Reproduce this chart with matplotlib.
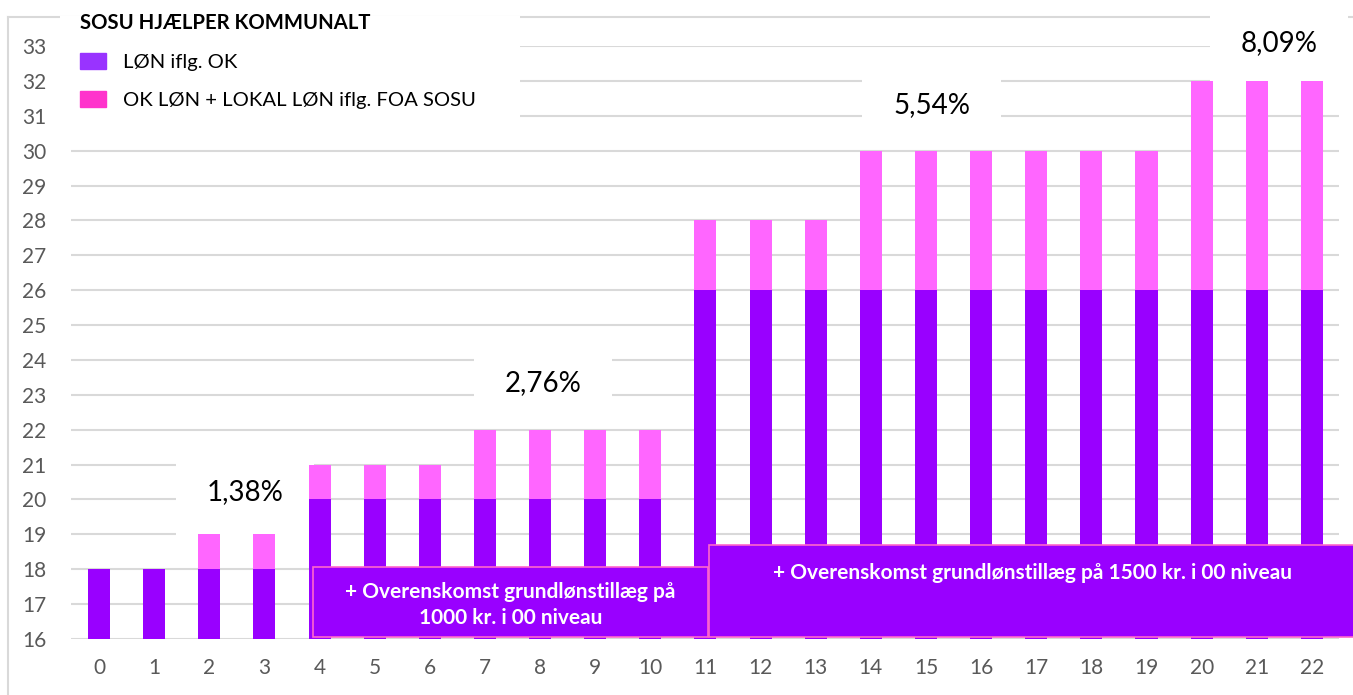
import matplotlib
matplotlib.use("Agg")
import numpy as np
import matplotlib.pyplot as plt
from matplotlib.patches import Patch, Rectangle
from matplotlib.lines import Line2D

# data
trin = list(range(23))
ok_lon = [18, 18, 18, 18, 20, 20, 20, 20, 20, 20, 20,
          26, 26, 26, 26, 26, 26, 26, 26, 26, 26, 26, 26]
total_lon = [18, 18, 19, 19, 21, 21, 21, 22, 22, 22, 22,
             28, 28, 28, 30, 30, 30, 30, 30, 30, 32, 32, 32]
pct_labels = ["1,38%", "2,76%", "5,54%", "8,09%"]
pct_pos = [(2.65, 20.2), (8.05, 23.35), (15.1, 31.3), (21.4, 33.08)]

series_names = ["LØN iflg. OK", "OK LØN + LOKAL LØN iflg. FOA SOSU"]
box_texts = ["+ Overenskomst grundlønstillæg på\n1000 kr. i 00 niveau",
             "+ Overenskomst grundlønstillæg på 1500 kr. i 00 niveau"]

PURPLE = "#9900FF"
PINK = "#FF66FF"
GRID = "#D9D9D9"

plt.rcParams['font.family'] = ['Lato', 'DejaVu Sans']

fig = plt.figure(figsize=(13.53, 6.95), dpi=100)
ax = fig.add_axes([0.0528, 0.0806, 0.9372, 0.8532])

x = np.array(trin)
ok = np.array(ok_lon)
tot = np.array(total_lon)

ax.bar(x, ok, 0.4, color=PURPLE, zorder=1)
ax.bar(x, tot - ok, 0.4, bottom=ok, color=PINK, zorder=1)

ax.set_xlim(-0.5, 22.5)
ax.set_ylim(16, 33)
ax.set_yticks(range(16, 34))
ax.set_xticks(x)
ax.grid(axis='y', color=GRID, linewidth=1.5)
ax.set_axisbelow(True)
for s in ax.spines.values():
    s.set_visible(False)
ax.tick_params(axis='both', length=0, labelsize=15, labelcolor="#595959")
ax.tick_params(axis='x', pad=14)
ax.tick_params(axis='y', pad=18)

# chart frame (cut off at right/bottom like the original)
ax.add_line(Line2D([8/1353, 8/1353], [0, 1 - 17/695], transform=fig.transFigure,
                   color=GRID, lw=1.5, clip_on=False, zorder=0.6))
ax.add_line(Line2D([8/1353, 1], [1 - 17/695, 1 - 17/695], transform=fig.transFigure,
                   color=GRID, lw=1.5, clip_on=False, zorder=0.6))

# white area behind legend
ax.add_patch(Rectangle((60/1353, 1 - 132/695), 460/1353, 116/695,
                       transform=fig.transFigure, facecolor="white",
                       edgecolor="none", clip_on=False, zorder=0.8))

handles = [Patch(color="#9933FF"), Patch(color="#FF33CC")]
leg = ax.legend(handles, series_names, title="SOSU HJÆLPER KOMMUNALT",
                loc='upper left', bbox_to_anchor=(80/1353, 1 - 13/695),
                bbox_transform=fig.transFigure, frameon=False, alignment='left',
                fontsize=14.6, title_fontproperties={'weight': 'bold', 'size': 14.6},
                borderpad=0, borderaxespad=0, handlelength=1.3, handleheight=0.8,
                handletextpad=0.8, labelspacing=1.0)

# percent labels (behind the bars, above the grid)
for lab, (px, py) in zip(pct_labels, pct_pos):
    ax.text(px, py, lab, ha='center', va='center', fontsize=20, color="black",
            bbox=dict(facecolor='white', edgecolor='none', pad=22), zorder=0.9)

# text boxes
ax.add_patch(Rectangle((3.88, 16.06), 7.17, 2.0, facecolor=PURPLE,
                       edgecolor="#FF66CC", lw=1.2, clip_on=False, zorder=4))
ax.add_patch(Rectangle((11.06, 16.06), 13.0, 2.64, facecolor=PURPLE,
                       edgecolor="#FF66CC", lw=1.2, clip_on=False, zorder=4))
ax.text(7.46, 16.97, box_texts[0], ha='center', va='center', color='white',
        fontsize=15, fontweight='bold', linespacing=1.4, zorder=5)
ax.text(16.93, 17.89, box_texts[1], ha='center', va='center', color='white',
        fontsize=15, fontweight='bold', zorder=5)

fig.savefig("out.png", dpi=100)
